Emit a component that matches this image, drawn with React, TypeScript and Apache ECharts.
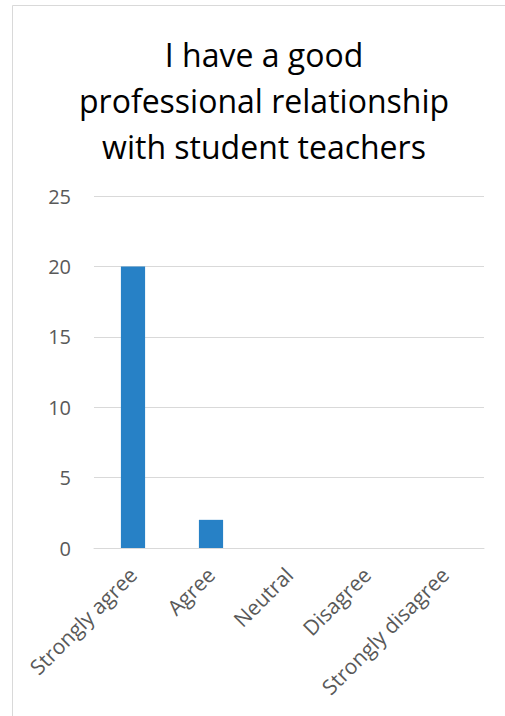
import React, { useEffect, useRef } from "react";
import * as echarts from "echarts";

const categories = ["Strongly agree", "Agree", "Neutral", "Disagree", "Strongly disagree"];
const counts = [20, 2, 0, 0, 0];
const titleLines = ["I have a good", "professional relationship", "with student teachers"];
const yMin = 0;
const yMax = 25;
const yStep = 5;

export default function App() {
  const ref = useRef<HTMLDivElement>(null);
  useEffect(() => {
    document.body.style.margin = "0";
    const chart = echarts.init(ref.current!, null, { renderer: "svg" });
    const font = "'Open Sans', sans-serif";
    chart.setOption({
      animation: false,
      backgroundColor: "#ffffff",
      textStyle: { fontFamily: font },
      title: {
        text: titleLines.join("\n"),
        left: 264,
        top: 31,
        textAlign: "center",
        padding: 0,
        textStyle: {
          fontFamily: font,
          fontSize: 32,
          fontWeight: "normal",
          color: "#000000",
          lineHeight: 46,
        },
      },
      graphic: [
        { type: "line", shape: { x1: 12.5, y1: 5.5, x2: 505, y2: 5.5 }, style: { stroke: "#d9d9d9", lineWidth: 1 } },
        { type: "line", shape: { x1: 12.5, y1: 5.5, x2: 12.5, y2: 716 }, style: { stroke: "#d9d9d9", lineWidth: 1 } },
      ],
      grid: { left: 94, right: 21, top: 196, bottom: 168, containLabel: false },
      xAxis: {
        type: "category",
        data: categories,
        axisLine: { lineStyle: { color: "#d9d9d9", width: 1 } },
        axisTick: { show: false },
        axisLabel: {
          rotate: 45,
          interval: 0,
          color: "#595959",
          fontSize: 21,
          fontFamily: font,
          margin: 23,
        },
      },
      yAxis: {
        type: "value",
        min: yMin,
        max: yMax,
        interval: yStep,
        axisLine: { show: false },
        axisTick: { show: false },
        splitLine: { lineStyle: { color: "#d9d9d9", width: 1 } },
        axisLabel: { color: "#595959", fontSize: 20, fontFamily: font, margin: 23 },
      },
      series: [
        {
          type: "bar",
          data: counts,
          barWidth: "31%",
          itemStyle: { color: "#2781c6" },
        },
      ],
    });
    return () => chart.dispose();
  }, []);
  return <div ref={ref} style={{ width: 505, height: 716, position: "absolute", left: 0, top: 0 }} />;
}
